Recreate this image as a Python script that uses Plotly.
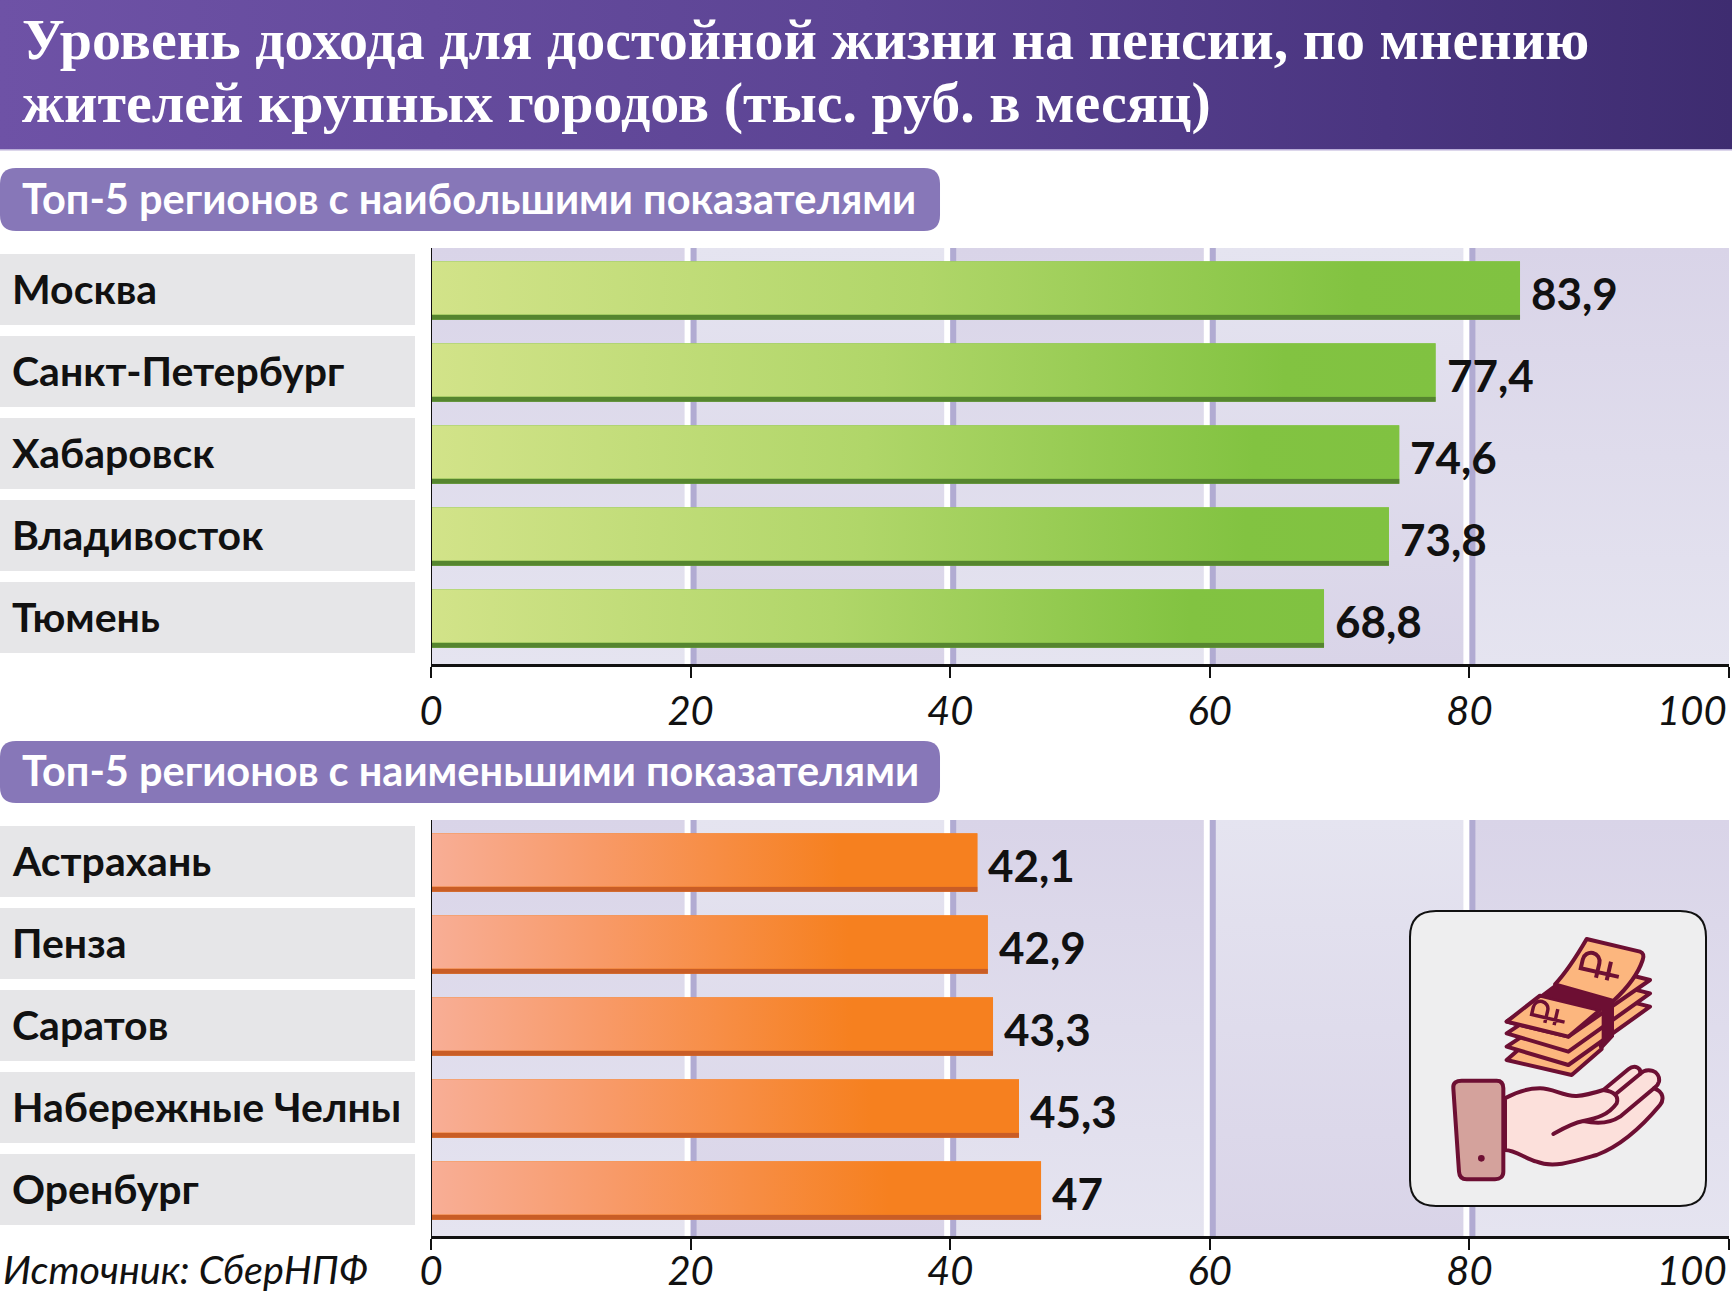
import base64
import plotly.graph_objects as go

W, H = 1732, 1293

title_lines = ["Уровень дохода для достойной жизни на пенсии, по мнению",
               "жителей крупных городов (тыс. руб. в месяц)"]
top_heading = "Топ-5 регионов с наибольшими показателями"
top_regions = ["Москва", "Санкт-Петербург", "Хабаровск", "Владивосток", "Тюмень"]
top_values = [83.9, 77.4, 74.6, 73.8, 68.8]
low_heading = "Топ-5 регионов с наименьшими показателями"
low_regions = ["Астрахань", "Пенза", "Саратов", "Набережные Челны", "Оренбург"]
low_values = [42.1, 42.9, 43.3, 45.3, 47]
ticks = [0, 20, 40, 60, 80, 100]
source = "Источник: СберНПФ"

NARROW = "Lato"
INK = "#6d0f33"
BILL = "#fcb67e"


def fx(px):
    return px / W


def fy(py):
    return 1 - py / H


def svg_uri(svg):
    return "data:image/svg+xml;base64," + base64.b64encode(svg.encode()).decode()


def gradient(stops, horizontal=True):
    # plotly has no gradient fill for bars or shapes, so these go in as images
    end = 'x2="1" y2="0"' if horizontal else 'x2="0" y2="1"'
    st = "".join(f'<stop offset="{o}" stop-color="{c}"/>' for o, c in stops)
    return svg_uri(f'<svg xmlns="http://www.w3.org/2000/svg" width="256" height="256">'
                   f'<defs><linearGradient id="g" x1="0" y1="0" {end}>{st}</linearGradient></defs>'
                   f'<rect width="256" height="256" fill="url(#g)"/></svg>')


def ruble(x, y, scale):
    return (f'<g transform="translate({x} {y}) rotate(-77) scale({scale})" fill="none" '
            f'stroke="{INK}" stroke-width="8">'
            '<path d="M-12,42 V-36 H6 A17,17 0 0 1 6,-2 H-24 M-24,20 H14"/></g>')


def money_icon():
    stroke = f'stroke="{INK}" stroke-width="12" stroke-linejoin="round"'
    bundle = f'<path d="M50,405 L245,450 L335,372 L300,260 L170,300 Z" fill="{BILL}" {stroke}/>'
    for ly, by, ry in ((365, 420, 245), (325, 380, 205), (290, 335, 165)):
        bundle += (f'<path d="M50,{ly} L235,{by} L480,{ry} L300,{ry - 45} Z" '
                   f'fill="{BILL}" {stroke}/>')
    bundle += (f'<path d="M195,178 C235,135 265,85 290,42 L450,80 Q465,85 458,105 '
               f'C440,160 400,200 370,228 Z" fill="{BILL}" {stroke}/>')
    bundle += f'<path d="M50,290 L150,212 L330,255 L235,335 Z" fill="{BILL}" {stroke}/>'
    bundle += (f'<path d="M150,210 L195,176 L372,225 L372,335 L335,375 L335,255 Z" fill="{INK}"/>')
    bundle += ruble(329, 124, 1.5) + ruble(174, 264, 1.3)

    hand = (f'<path d="M195,115 C230,95 265,85 300,85 C340,85 370,110 410,108 C440,106 465,98 490,90 '
            f'L565,28 C585,12 605,25 600,42 C620,20 662,32 657,65 C655,75 648,80 642,85 '
            f'C672,95 672,120 660,135 C610,195 550,255 470,285 C400,305 340,325 290,305 '
            f'C255,295 225,270 195,270 Z" fill="#fce0db" {stroke}/>'
            f'<path d="M340,222 C370,205 395,190 430,183 C470,175 505,165 530,130 '
            f'C537,110 525,95 490,90 M430,183 C470,192 510,190 540,170 L642,85 M530,100 L600,42" '
            f'fill="none" {stroke} stroke-linecap="round"/>'
            f'<path d="M40,85 C38,68 50,62 65,62 L170,62 C185,62 190,72 190,85 L190,335 '
            f'C190,350 180,358 165,358 L80,358 C65,358 58,350 57,335 Z" fill="#d4a29c" {stroke}/>'
            f'<circle cx="124" cy="295" r="10" fill="{INK}"/>')
    return svg_uri('<svg xmlns="http://www.w3.org/2000/svg" width="1296" height="1239" '
                   'viewBox="0 0 1296 1239">'
                   f'<g transform="translate(570 135)">{bundle}</g>'
                   f'<g transform="translate(420 540)">{hand}</g></svg>')


def rounded(x0, y0, x1, y1, r):
    # rounded rectangle in paper coordinates, input in page pixels
    pts = [("M", x0 + r, y0), ("L", x1 - r, y0), ("Q", x1, y0, x1, y0 + r), ("L", x1, y1 - r),
           ("Q", x1, y1, x1 - r, y1), ("L", x0 + r, y1), ("Q", x0, y1, x0, y1 - r),
           ("L", x0, y0 + r), ("Q", x0, y0, x0 + r, y0)]
    out = ""
    for p in pts:
        coords = p[1:]
        pairs = [f"{fx(coords[i]):.5f},{fy(coords[i + 1]):.5f}" for i in range(0, len(coords), 2)]
        out += p[0] + " ".join(pairs) + " "
    return out + "Z"


fig = go.Figure()
images, shapes, notes = [], [], []

# page furniture
images.append(dict(source=gradient([(0, "#6e52a6"), (0.5, "#5c4494"), (0.8, "#4a3580"), (1, "#3e2c70")]),
                   xref="paper", yref="paper", x=0, y=1, sizex=1, sizey=149 / H,
                   xanchor="left", yanchor="top", sizing="stretch", layer="below"))
shapes.append(dict(type="rect", xref="paper", yref="paper", x0=0, x1=1, y0=fy(150.5), y1=fy(149),
                   fillcolor="#b9add8", line_width=0, layer="below"))
for line, py in zip(title_lines, (40, 102)):
    notes.append(dict(text=line, xref="paper", yref="paper", x=fx(20), y=fy(py), xanchor="left",
                      yanchor="middle", showarrow=False,
                      font=dict(family="Liberation Serif", size=58, color="white", weight="bold")))

panels = [
    dict(regions=top_regions, values=top_values, heading=top_heading, pill=(168, 231), top=248,
         bottom=664, first=290.5, xaxis="x", yaxis="y", dark="#55852f", end="#80c241",
         label_gap=46, standoff=-1,
         stops=[(0, "#d2e389"), (0.45, "#b0d669"), (0.85, "#82c341"), (1, "#80c241")]),
    dict(regions=low_regions, values=low_values, heading=low_heading, pill=(741, 803), top=820,
         bottom=1236, first=862.5, xaxis="x2", yaxis="y2", dark="#c95d26", end="#f6801f",
         label_gap=34, standoff=-13,
         stops=[(0, "#f8ae96"), (0.3, "#f89a68"), (0.75, "#f6801f"), (1, "#f6801f")]),
]
STEP = 82
BAR_H = 58.5
STRIP = 5

for n, p in enumerate(panels):
    # pill heading
    shapes.append(dict(type="path", path=rounded(0, p["pill"][0], 940, p["pill"][1], 16),
                       xref="paper", yref="paper", fillcolor="#8777b8", line_width=0, layer="below"))
    notes.append(dict(text=p["heading"], xref="paper", yref="paper", x=fx(20),
                      y=fy(sum(p["pill"]) / 2 - 2), xanchor="left", yanchor="middle", showarrow=False,
                      font=dict(family=NARROW, size=41.5, color="white", weight="bold")))

    # alternating stripes behind the bars
    for i in range(len(ticks) - 1):
        c1, c2 = ("#d9d4e8", "#e5e4f0") if i % 2 == 0 else ("#e5e4f0", "#d9d4e8")
        images.append(dict(source=gradient([(0, c1), (1, c2)], horizontal=False),
                           xref=p["xaxis"], yref="paper", x=ticks[i], y=fy(p["top"]),
                           sizex=ticks[i + 1] - ticks[i], sizey=(p["bottom"] - p["top"]) / H,
                           xanchor="left", yanchor="top", sizing="stretch", layer="below"))
    for t in ticks[1:-1]:
        for a, b, col in ((-6, 0, "white"), (0, 6, "#b1abd2")):
            shapes.append(dict(type="rect", xref=p["xaxis"], yref="paper", xsizemode="pixel",
                               xanchor=t, x0=a, x1=b, y0=fy(p["bottom"]), y1=fy(p["top"]),
                               fillcolor=col, line_width=0, layer="below"))

    fig.add_trace(go.Bar(x=p["values"], y=p["regions"], orientation="h", width=BAR_H / STEP,
                         marker=dict(color=p["end"], line_width=0), xaxis=p["xaxis"],
                         yaxis=p["yaxis"], showlegend=False, hoverinfo="x+y"))
    # dark strip along the bottom edge of each bar
    fig.add_trace(go.Bar(x=p["values"], y=p["regions"], orientation="h", width=STRIP / STEP,
                         offset=(BAR_H / 2 - STRIP) / STEP, marker=dict(color=p["dark"], line_width=0),
                         xaxis=p["xaxis"], yaxis=p["yaxis"], showlegend=False, hoverinfo="skip"))

    grad = gradient(p["stops"])
    for i, (region, v) in enumerate(zip(p["regions"], p["values"])):
        # label cell
        cy = p["first"] + i * STEP
        shapes.append(dict(type="rect", xref="paper", yref="paper", x0=0, x1=fx(415),
                           y0=fy(cy + 35.5 - 1), y1=fy(cy - 35.5 - 1), fillcolor="#e6e6e8",
                           line_width=0, layer="below"))
        notes.append(dict(text=region, xref="paper", yref=p["yaxis"], x=fx(10), y=i, yshift=2,
                          xanchor="left", yanchor="middle", showarrow=False,
                          font=dict(family=NARROW, size=41, color="#111111", weight="bold")))
        # gradient face of the bar, leaving the dark strip at the bottom
        images.append(dict(source=grad, xref=p["xaxis"], yref=p["yaxis"], x=0, sizex=v,
                           y=i - BAR_H / STEP / 2, sizey=(BAR_H - STRIP) / STEP, xanchor="left",
                           yanchor="top", sizing="stretch", layer="above"))
        notes.append(dict(text=f"{v:g}".replace(".", ","), xref=p["xaxis"], yref=p["yaxis"], x=v,
                          y=i, xshift=9, yshift=-2, xanchor="left", yanchor="middle",
                          showarrow=False,
                          font=dict(family=NARROW, size=44, color="#111111", weight="bold")))

    # the images above the bars would hide the axis line at the bars
    shapes.append(dict(type="rect", xref=p["xaxis"], yref="paper", xsizemode="pixel", xanchor=0,
                       x0=-1, x1=1, y0=fy(p["bottom"]), y1=fy(p["top"]), fillcolor="#111111",
                       line_width=0, layer="above"))

    # axis 100 label sits left of its tick, the page ends right there
    notes.append(dict(text="100", xref=p["xaxis"], yref="paper", x=100,
                      y=fy(p["bottom"] + p["label_gap"]), xanchor="right", yanchor="middle",
                      showarrow=False,
                      font=dict(family=NARROW, size=40, color="#111111", style="italic")))

    axis_x = dict(domain=[fx(431), fx(1729)], range=[0, 100], tickvals=ticks,
                  ticktext=[str(t) for t in ticks[:-1]] + [""], ticks="outside", ticklen=11,
                  tickwidth=2, tickcolor="#111111", showline=True, linecolor="#111111", linewidth=3,
                  showgrid=False, zeroline=False, anchor=p["yaxis"], ticklabelstandoff=p["standoff"],
                  tickfont=dict(family=NARROW, size=40, color="#111111", style="italic"))
    lo = (p["top"] - p["first"]) / STEP
    hi = (p["bottom"] - p["first"]) / STEP
    axis_y = dict(domain=[fy(p["bottom"]), fy(p["top"])], range=[hi, lo], type="category",
                  categoryorder="array", categoryarray=p["regions"], showticklabels=False,
                  ticks="", showline=False, showgrid=False, zeroline=False, anchor=p["xaxis"])
    suffix = "" if n == 0 else "2"
    fig.update_layout({"xaxis" + suffix: axis_x, "yaxis" + suffix: axis_y})

notes.append(dict(text=source, xref="paper", yref="paper", x=fx(1), y=fy(1268), xanchor="left",
                  yanchor="middle", showarrow=False,
                  font=dict(family=NARROW, size=39.5, color="#111111", style="italic")))

# icon card, corner of the lower panel
shapes.append(dict(type="path", path=rounded(1410, 911, 1706, 1206, 26), xref="paper", yref="paper",
                   fillcolor="#eeeeef", line=dict(color="#111111", width=2), layer="below"))
images.append(dict(source=money_icon(), xref="paper", yref="paper", x=fx(1300), y=fy(880),
                   sizex=432 / W, sizey=413 / H, xanchor="left", yanchor="top", sizing="stretch",
                   layer="above"))

fig.update_layout(width=W, height=H, margin=dict(l=0, r=0, t=0, b=0, autoexpand=False),
                  paper_bgcolor="white", plot_bgcolor="rgba(0,0,0,0)", barmode="overlay",
                  images=images, shapes=shapes, annotations=notes, showlegend=False)

fig.write_html("out.html", config=dict(displayModeBar=False),
               post_script="document.body.style.margin='0';document.body.style.overflow='hidden';")
